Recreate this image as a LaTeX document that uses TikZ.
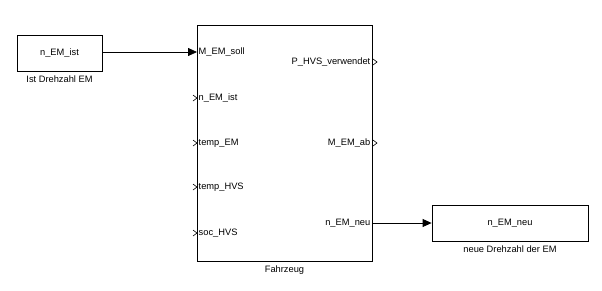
\documentclass[tikz,border=0pt]{standalone}
\usepackage{fontspec}
\setmainfont{Liberation Sans}
\usetikzlibrary{positioning,arrows.meta}
\tikzset{
  blk/.style={draw=black,fill=white,line width=0.8pt,inner sep=0pt,font=\fontsize{9.3}{11}\selectfont},
  port/.style={inner sep=1.5pt,font=\fontsize{9.3}{11}\selectfont},
  blkcap/.style={inner sep=0pt,font=\fontsize{9.3}{11}\selectfont},
  chev/.style={line width=0.6pt},
  arrow/.style={-{Triangle[length=9pt,width=8pt]},line width=0.8pt},
}
\begin{document}
\begin{tikzpicture}[x=1pt,y=-1pt]
      \useasboundingbox (0,0) rectangle (602,290);
      \node[blk,minimum width=85pt,minimum height=36pt] (ist) at (59.5,53) {n\_EM\_ist};
      \node[blkcap,below=4pt of ist] {Ist Drehzahl EM};
      \node[blk,minimum width=175pt,minimum height=236pt] (fzg) at (284.5,143) {};
      \node[blkcap,below=4pt of fzg] {Fahrzeug};
      \node[blk,minimum width=156pt,minimum height=36pt] (neu) at (510,223) {n\_EM\_neu};
      \node[blkcap,below=4pt of neu] {neue Drehzahl der EM};
      % inputs
      \foreach \y/\n/\t in {52/i1/M\_EM\_soll,98/i2/n\_EM\_ist,143/i3/temp\_EM,187/i4/temp\_HVS,233/i5/soc\_HVS}{
        \coordinate (\n) at (197,\y);
        \node[port,anchor=west] at (\n) {\t};
      }
      \foreach \n in {i2,i3,i4,i5}
        \draw[chev] ([shift={(-4,-3)}]\n) -- ([shift={(0,0)}]\n) -- ([shift={(-4,3)}]\n);
      % outputs
      \foreach \y/\n/\t in {62/o1/P\_HVS\_verwendet,143/o2/M\_EM\_ab,223/o3/n\_EM\_neu}{
        \coordinate (\n) at (372,\y);
        \node[port,anchor=east] at (\n) {\t};
      }
      \foreach \n in {o1,o2}
        \draw[chev] ([shift={(1,-3)}]\n) -- ([shift={(5,0)}]\n) -- ([shift={(1,3)}]\n);
      \draw[arrow] (ist.east |- i1) -- (i1);
      \draw[arrow] (o3) -- (neu.west |- o3);
    \end{tikzpicture}
\end{document}
